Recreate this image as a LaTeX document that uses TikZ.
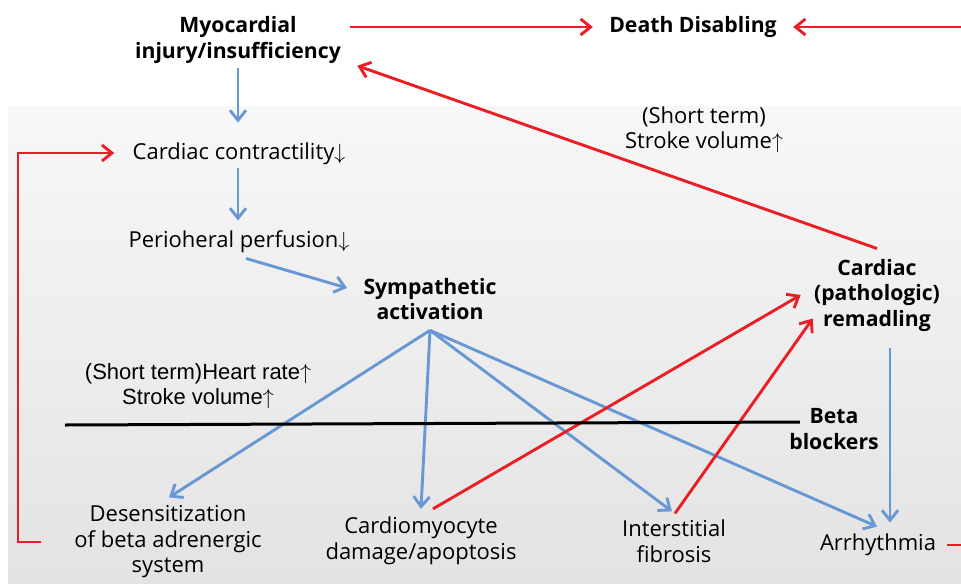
\documentclass[tikz,border=0pt]{standalone}
\usepackage{fontspec}
\setmainfont{Open Sans}
\newfontfamily\arialfont{Liberation Sans}
\usepackage{tikz}
\usetikzlibrary{arrows.meta, positioning, calc}
\definecolor{flowblue}{RGB}{104,152,212}
\definecolor{flowred}{RGB}{234,30,36}

\begin{document}
\begin{tikzpicture}[x=0.5pt, y=-0.5pt,
    every node/.style={font=\fontsize{11}{12.75}\selectfont, inner sep=1pt, align=center}]

    \tikzstyle{keynode}=[font=\fontsize{10.6}{12.75}\selectfont\bfseries]
    \tikzstyle{bluearrow}=[draw=flowblue, line width=1.45pt, -{Straight Barb[length=5pt, width=8pt]}]
    \tikzstyle{redarrow}=[draw=flowred, line width=1.45pt, -{Straight Barb[length=5pt, width=8pt]}]
    \tikzstyle{redline}=[draw=flowred, line width=1.45pt]

    \useasboundingbox (0,0) rectangle (961,583);
    \shade[top color=white!97!black, bottom color=black!11] (8,106) rectangle (961,583);

    \node[keynode] (myo) at (238,40) {Myocardial\\injury/insufficiency};
    \node[keynode] (death) at (693,27) {Death Disabling};
    \node (contract) at (239,154) {Cardiac contractility$\downarrow$};
    \node (perf) at (239,242) {Perioheral perfusion$\downarrow$};
    \node[keynode] (symp) at (430,299) {Sympathetic\\activation};
    \node (stroke) at (704,130) {(Short term)\\Stroke volume$\uparrow$};
    \node[keynode] (remod) at (877,295) {Cardiac\\(pathologic)\\remadling};
    \node[font=\arialfont\fontsize{11}{12.75}\selectfont] (short) at (198,386) {(Short term)Heart rate$\uparrow$\\Stroke volume$\uparrow$};
    \node[keynode] (beta) at (834,429) {Beta\\blockers};
    \node (desens) at (168,542) {Desensitization\\of beta adrenergic\\system};
    \node (cardio) at (421,541) {Cardiomyocyte\\damage/apoptosis};
    \node (inter) at (674,541) {Interstitial\\fibrosis};
    \node (arrh) at (878,545) {Arrhythmia};

    \coordinate (fan) at ($(symp.south)+(0,8)$);
    \coordinate (edge-top) at (961,27);
    \coordinate (edge-bot) at (961,545);

    % main chain
    \draw[bluearrow] ($(myo.south)+(0,2)$) -- ($(contract.north)+(-1,-18)$);
    \draw[bluearrow] ($(contract.south)+(-1,1)$) -- ($(perf.north)+(-1,-8)$);
    \draw[bluearrow] ($(perf.south)+(7,3)$) -- ($(symp.west)+(-14,-11)$);

    % sympathetic fan
    \draw[bluearrow] (fan) -- ($(desens.north)+(1,-6)$);
    \draw[bluearrow] (fan) -- ($(cardio.north)+(0,-6)$);
    \draw[bluearrow] (fan) -- ($(inter.north)+(-2,-6)$);
    \draw[bluearrow] (fan) -- ($(arrh.north)+(-1,-5)$);
    \draw[bluearrow] ($(remod.south)+(13,14)$) -- ($(arrh.north)+(12,-9)$);

    % red feedback
    \draw[redarrow] ($(myo.east)+(7,-13)$) -- ($(death.west)+(-14,0)$);
    \draw[redarrow] (edge-top) -- ($(death.east)+(14,0)$);
    \draw[redarrow] ($(remod.north)+(0,-8)$) -- ($(myo.south east)+(14,0)$);
    \draw[redarrow] ($(cardio.north)+(12,-6)$) -- ($(remod.west)+(-11,0)$);
    \draw[redarrow] ($(inter.north)+(1,-4)$) -- ($(remod.south west)+(1,-15)$);
    \draw[redarrow] ($(desens.west)+(-31,0)$) -| (18,300) |- ($(contract.west)+(-16,-1)$);
    \draw[redline] ($(arrh.east)+(9,0)$) -- (edge-bot);

    % beta blocker line
    \draw[line width=1.5pt] (65,425) -- ($(beta.west)+(13,-7)$);

\end{tikzpicture}
\end{document}
